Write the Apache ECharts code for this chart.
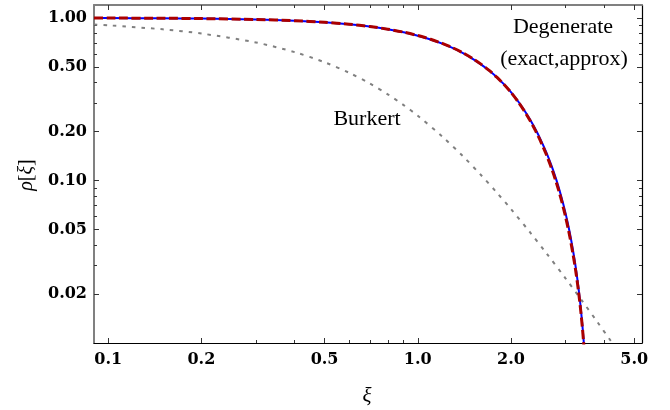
<!DOCTYPE html>
<html>
<head>
<meta charset="utf-8">
<script src="https://cdn.jsdelivr.net/npm/echarts@6/dist/echarts.min.js"></script>
<style>
  html, body { margin: 0; padding: 0; background: #ffffff; }
  #chart { width: 670px; height: 410px; }
</style>
</head>
<body>
<div id="chart"></div>
<script>
// Radial coordinate ξ shared by the two degenerate density profiles
const degXi = [0.09, 0.1, 0.15, 0.2, 0.3, 0.4, 0.5, 0.6, 0.7, 0.8, 0.9, 1.0,
  1.1, 1.2, 1.3, 1.4, 1.5, 1.6, 1.7, 1.8, 1.9, 2.0, 2.1, 2.2, 2.3, 2.4, 2.5,
  2.6, 2.7, 2.8, 2.9, 3.0, 3.1, 3.2, 3.25, 3.3, 3.35, 3.4, 3.43, 3.45];

// Degenerate profile, exact solution
const degExact = [0.99798, 0.9975, 0.9944, 0.99004, 0.97773, 0.96074, 0.93929,
  0.91368, 0.88424, 0.85136, 0.81547, 0.77697, 0.73640, 0.69415, 0.65071,
  0.60656, 0.56212, 0.51784, 0.47408, 0.43148, 0.38956, 0.34954, 0.31030,
  0.27327, 0.23864, 0.20637, 0.17654, 0.14916, 0.12413, 0.10149, 0.08116,
  0.06316, 0.04737, 0.03377, 0.02778, 0.02232, 0.01740, 0.01302, 0.01065,
  0.00917];

// Degenerate profile, approximate form
const degApprox = [0.9980, 0.9975, 0.9944, 0.9900, 0.9777, 0.9607, 0.9394,
  0.9139, 0.8848, 0.8523, 0.8169, 0.7787, 0.7384, 0.6964, 0.6530, 0.6087,
  0.5640, 0.5193, 0.4750, 0.4316, 0.3892, 0.3482, 0.3085, 0.2707, 0.2353,
  0.2024, 0.1723, 0.1448, 0.1199, 0.0976, 0.0777, 0.0601, 0.0449, 0.0320,
  0.0264, 0.0213, 0.0167, 0.0126, 0.0103, 0.0089];

// Burkert profile
const burkertXi = [0.09, 0.1, 0.15, 0.2, 0.3, 0.4, 0.5, 0.6, 0.7, 0.8, 0.9,
  1.0, 1.2, 1.4, 1.6, 1.8, 2.0, 2.3, 2.6, 3.0, 3.4, 3.8, 4.2, 4.4];
const burkertRho = [0.91006, 0.90009, 0.85043, 0.80128, 0.70572, 0.61576,
  0.53333, 0.45956, 0.39479, 0.33875, 0.29078, 0.25, 0.18629, 0.14077,
  0.10804, 0.08423, 0.06667, 0.04818, 0.03580, 0.025, 0.01810, 0.01349,
  0.01032, 0.00910];

// Log-axis ticks
const xMajorTicks = [0.1, 0.2, 0.5, 1, 2, 5];
const xMajorLabels = ['0.1', '0.2', '0.5', '1.0', '2.0', '5.0'];
const xMinorTicks = [0.3, 0.4, 0.6, 0.7, 0.8, 0.9, 3, 4];
const yMajorTicks = [0.02, 0.05, 0.1, 0.2, 0.5, 1];
const yMajorLabels = ['0.02', '0.05', '0.10', '0.20', '0.50', '1.00'];
const yMinorTicks = [0.03, 0.04, 0.06, 0.07, 0.08, 0.09, 0.3, 0.4, 0.6, 0.7, 0.8, 0.9];

const xRange = [0.09, 5.3];
const yRange = [0.01, 1.2];

const lg = Math.log10;
const pairs = (xs, ys) => xs.map((x, i) => [lg(x), lg(ys[i])]);

function labelFor(ticks, labels) {
  return function (v) {
    const i = ticks.findIndex(t => Math.abs(lg(t) - v) < 1e-6);
    return i >= 0 ? labels[i] : '';
  };
}

const tickFont = {
  fontFamily: 'DejaVu Serif',
  fontWeight: 'bold',
  fontSize: 16,
  color: '#000'
};

function makeAxis(dim, position, tickVals, tickLen, labels, lineColor, lineWidth) {
  const range = dim === 'x' ? xRange : yRange;
  return {
    type: 'value',
    gridIndex: 0,
    position: position,
    min: lg(range[0]),
    max: lg(range[1]),
    axisLine: {
      show: !!lineColor,
      onZero: false,
      lineStyle: { color: lineColor || '#000', width: lineWidth || 1 }
    },
    axisTick: {
      show: true,
      inside: true,
      length: tickLen,
      customValues: tickVals.map(lg),
      lineStyle: { color: '#333', width: 1 }
    },
    axisLabel: labels ? Object.assign({
      show: true,
      customValues: tickVals.map(lg),
      formatter: labelFor(tickVals, labels),
      margin: dim === 'x' ? 9 : 7
    }, tickFont) : { show: false },
    splitLine: { show: false },
    minorTick: { show: false }
  };
}

const chart = echarts.init(document.getElementById('chart'), null, { renderer: 'canvas' });

chart.setOption({
  backgroundColor: '#ffffff',
  animation: false,
  grid: {
    left: 94, right: 28, top: 5, bottom: 67,
    outerBoundsMode: 'none'
  },
  xAxis: [
    makeAxis('x', 'bottom', xMajorTicks, 5, xMajorLabels, '#000', 1.2),
    makeAxis('x', 'bottom', xMinorTicks, 3, null, null),
    makeAxis('x', 'top', xMajorTicks, 5, null, '#808080', 2),
    makeAxis('x', 'top', xMinorTicks, 3, null, null)
  ],
  yAxis: [
    makeAxis('y', 'left', yMajorTicks, 5, yMajorLabels, '#808080', 2),
    makeAxis('y', 'left', yMinorTicks, 3, null, null),
    makeAxis('y', 'right', yMajorTicks, 5, null, '#000', 1.2),
    makeAxis('y', 'right', yMinorTicks, 3, null, null)
  ],
  series: [
    {
      name: 'Burkert',
      type: 'line',
      xAxisIndex: 0, yAxisIndex: 0,
      data: pairs(burkertXi, burkertRho),
      showSymbol: false,
      smooth: 0.3,
      clip: true,
      lineStyle: { color: '#808080', width: 2, type: [3.5, 6] },
      z: 2
    },
    {
      name: 'Degenerate (exact)',
      type: 'line',
      xAxisIndex: 0, yAxisIndex: 0,
      data: pairs(degXi, degExact),
      showSymbol: false,
      smooth: 0.25,
      clip: true,
      lineStyle: { color: '#0000ff', width: 2, type: 'solid' },
      z: 3
    },
    {
      name: 'Degenerate (approx)',
      type: 'line',
      xAxisIndex: 0, yAxisIndex: 0,
      data: pairs(degXi, degApprox),
      showSymbol: false,
      smooth: 0.25,
      clip: true,
      lineStyle: { color: '#aa0000', width: 3, type: [9, 3.5] },
      z: 4
    }
  ],
  graphic: [
    {
      type: 'text', x: 563, y: 27, z: 10,
      style: { text: 'Degenerate', fontFamily: 'Liberation Serif', fontSize: 22,
        fill: '#000', align: 'center', verticalAlign: 'middle' }
    },
    {
      type: 'text', x: 564, y: 59, z: 10,
      style: { text: '(exact,approx)', fontFamily: 'Liberation Serif', fontSize: 22,
        fill: '#000', align: 'center', verticalAlign: 'middle' }
    },
    {
      type: 'text', x: 367, y: 119, z: 10,
      style: { text: 'Burkert', fontFamily: 'Liberation Serif', fontSize: 22,
        fill: '#000', align: 'center', verticalAlign: 'middle' }
    },
    {
      type: 'text', x: 27, y: 175, rotation: Math.PI / 2, z: 10,
      style: {
        text: '{i|ρ}[{i|ξ}]',
        align: 'center', verticalAlign: 'middle',
        fontFamily: 'Liberation Serif', fontSize: 20, fill: '#000',
        rich: { i: { fontFamily: 'Liberation Serif', fontStyle: 'italic', fontSize: 20, fill: '#000' } }
      }
    },
    {
      type: 'text', x: 367, y: 396, z: 10,
      style: { text: 'ξ', fontFamily: 'Liberation Serif', fontStyle: 'italic', fontSize: 21,
        fill: '#000', align: 'center', verticalAlign: 'middle' }
    }
  ]
});
</script>
</body>
</html>
